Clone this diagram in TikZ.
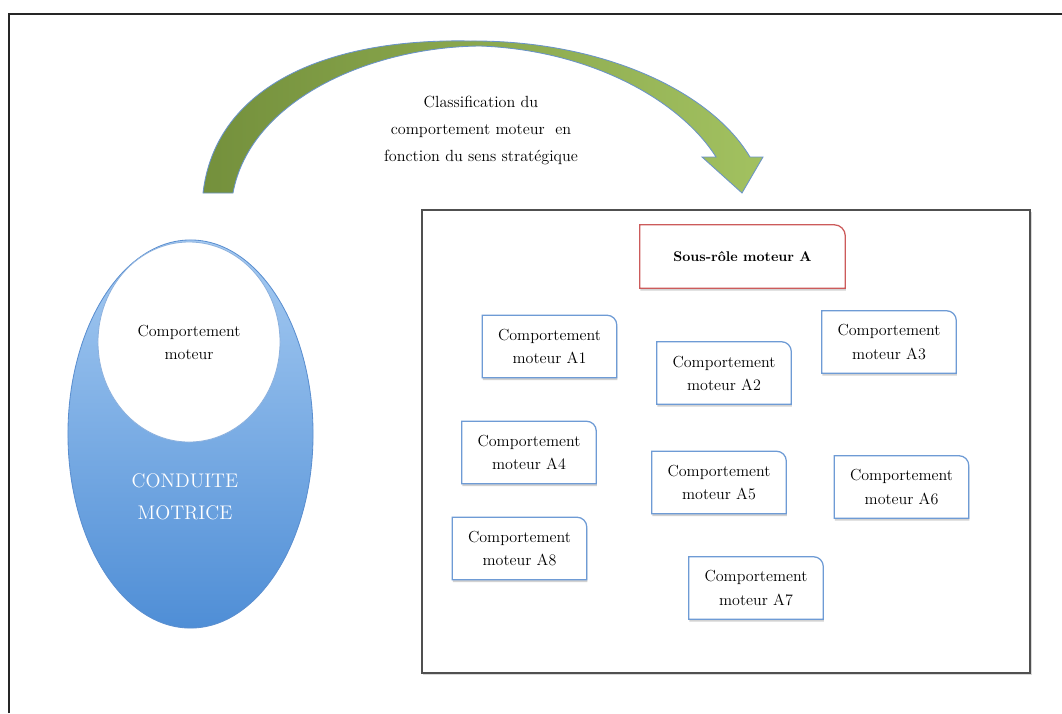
\documentclass[tikz,border=0pt]{standalone}
\usetikzlibrary{shadows}
\usetikzlibrary{positioning}
\usetikzlibrary{shapes.geometric}
\usetikzlibrary{backgrounds}

\definecolor{boxblue}{HTML}{6E9BD5}
\definecolor{rolered}{HTML}{CC5B5B}
\definecolor{ovaltop}{HTML}{A6CBF2}
\definecolor{ovalbot}{HTML}{4F8ED6}
\definecolor{ovaledge}{HTML}{5B8FD0}
\definecolor{arrowdark}{HTML}{74903C}
\definecolor{arrowlight}{HTML}{A2C160}
\definecolor{arrowedge}{HTML}{6A93C8}
\definecolor{panelgray}{HTML}{505050}

\tikzset{
  comptext/.style={align=center, font=\fontsize{11.4}{16.4}\selectfont, minimum width=3.35cm, minimum height=1.55cm, inner sep=0pt},
  boxedge/.style={draw=boxblue, line width=0.9pt, fill=white, drop shadow={shadow xshift=0.4pt, shadow yshift=-1.6pt, opacity=0.35}},
}

\begin{document}
\begin{tikzpicture}[x=0.025cm, y=-0.025cm]
 \useasboundingbox (0,0) rectangle (1062,713);

 %outer frame
 \draw[line width=1.4pt, black!85] (9,713) -- (9,14) -- (1062,14);

 %curved arrow
 \path[left color=arrowdark, right color=arrowlight, draw=arrowedge, line width=0.6pt]
   (203,193) .. controls (215,90) and (320,38) .. (470,41)
   .. controls (600,40) and (710,90) .. (750,157) -- (763,157) -- (742,193) -- (702,157) -- (716,157)
   .. controls (680,100) and (590,50) .. (480,46)
   .. controls (370,47) and (250,100) .. (233,193) -- cycle;
 \node[align=center, font=\fontsize{11.5}{19.2}\selectfont] (classif) at (481,130)
   {Classification du\\comportement moteur~~en\\fonction du sens stratégique};

 %conduite motrice
 \node[ellipse, top color=ovaltop, bottom color=ovalbot, draw=ovaledge, line width=0.6pt,
   minimum width=6.125cm, minimum height=9.7cm] (conduite) at (190.5,434) {};
 \node[ellipse, fill=white, draw=ovaledge!70, line width=0.6pt, minimum width=4.55cm, minimum height=5cm,
   align=center, font=\fontsize{11.4}{16.4}\selectfont] (comport) at (189,342) {Comportement\\moteur};
 \node[align=center, text=white, font=\fontsize{14}{22.8}\selectfont] (conduitetxt) at (185,497) {CONDUITE\\MOTRICE};

 %sous-role
 \node[align=center, font=\fontsize{10}{12}\bfseries, minimum width=5.125cm, minimum height=1.575cm] (role) at (742.5,256.5) {Sous-rôle moteur A};

 %comportements A1..A8
 \foreach \i/\x/\y in {1/549.5/346.5, 2/724/373, 3/889/342, 4/529/452.5,
                       5/719/482.5, 6/901.5/487, 7/756/588, 8/519.5/548.5} {
   \node[comptext] (a\i) at (\x,\y) {Comportement\\moteur A\i};
 }

 \begin{pgfonlayer}{background}
  \node[draw=panelgray, line width=1.2pt, fill=white, minimum width=15.2cm, minimum height=11.575cm,
    drop shadow={shadow xshift=1pt, shadow yshift=-1.2pt, opacity=0.3}] (panel) at (726,441.5) {};
  \draw[boxedge, draw=rolered] (role.south west) -- (role.north west) -- ([xshift=-8pt]role.north east)
    arc[start angle=90, end angle=0, radius=8pt] -- (role.south east) -- cycle;
  \foreach \i in {1,...,8}
   \draw[boxedge] (a\i.south west) -- (a\i.north west) -- ([xshift=-7pt]a\i.north east)
     arc[start angle=90, end angle=0, radius=7pt] -- (a\i.south east) -- cycle;
 \end{pgfonlayer}

\end{tikzpicture}
\end{document}
